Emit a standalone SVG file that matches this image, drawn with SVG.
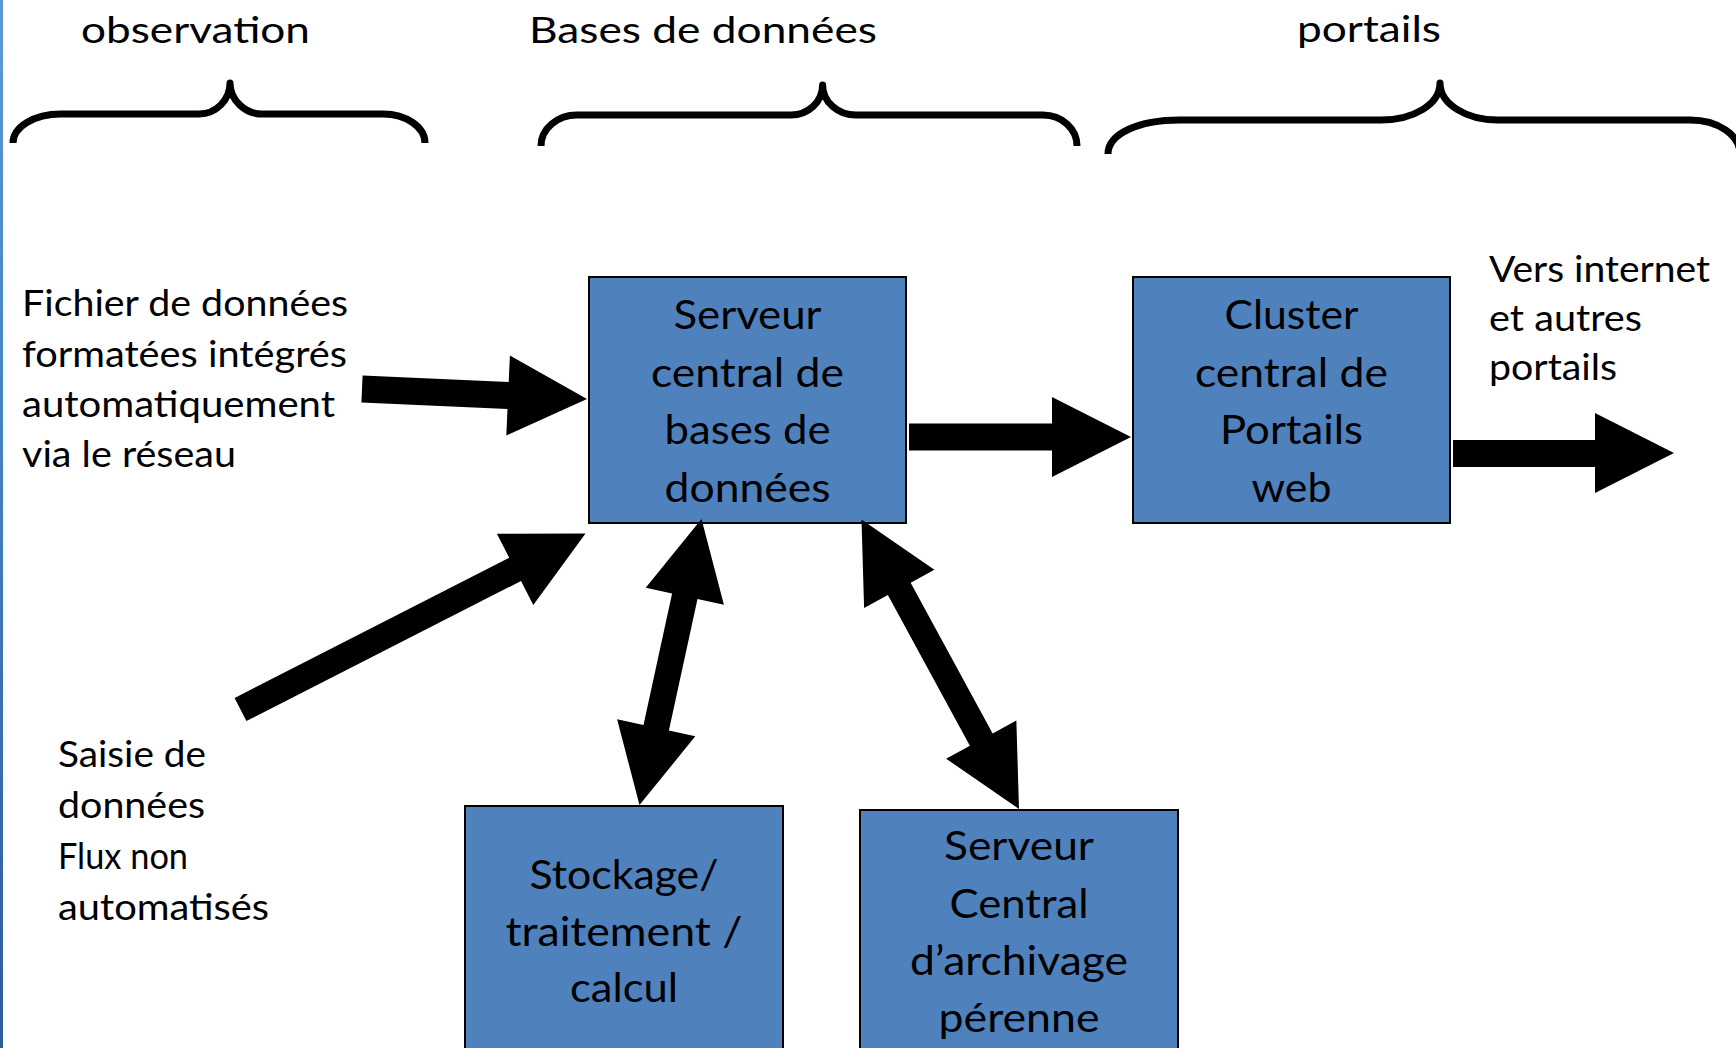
<svg xmlns="http://www.w3.org/2000/svg" width="1736" height="1048" viewBox="0 0 1736 1048">
  <defs>
    <linearGradient id="edge" x1="0" y1="0" x2="0" y2="1">
      <stop offset="0" stop-color="#5a9ad6"/>
      <stop offset="0.5" stop-color="#3f7cc0"/>
      <stop offset="1" stop-color="#2d5d99"/>
    </linearGradient>
    <style>
      .t { font-family: Lato, "Liberation Sans", sans-serif; font-size: 37px; fill: #000; }
      .bt { font-family: Lato, "Liberation Sans", sans-serif; font-size: 41px; fill: #000; text-anchor: middle; }
      .hd { text-anchor: middle; }
      .box { fill: #4f81bd; stroke: #000; stroke-width: 2; }
      .brace { fill: none; stroke: #000; stroke-width: 7; stroke-linejoin: round; stroke-linecap: butt; }
      .arrow { fill: #000; stroke: none; }
    </style>
  </defs>
  <rect width="1736" height="1048" fill="#fff"/>
  <rect x="0" y="0" width="3" height="1048" fill="url(#edge)"/>

  <g id="headers">
    <text class="t hd" x="195.5" y="43" textLength="229" lengthAdjust="spacingAndGlyphs">observation</text>
    <text class="t hd" x="703" y="43" textLength="348" lengthAdjust="spacingAndGlyphs">Bases de données</text>
    <text class="t hd" x="1369" y="42" textLength="144" lengthAdjust="spacingAndGlyphs">portails</text>
  </g>

  <g id="braces">
    <path class="brace" d="M13,143 C13,127 34,114 61,114 L199,114 C216,114 230,100 230,83 C230,100 245,114 262,114 L383,114 C406,114 425,127 425,143"/>
    <path class="brace" d="M541,146 C541,129 557,115 577,115 L791,115 C808,115 822.6,102 822.6,85 C822.6,102 838,115 856,115 L1043,115 C1062,115 1077,129 1077,146"/>
    <path class="brace" d="M1108,154 C1108,134 1138,120 1180,120 L1381,120 C1414,120 1440,104 1440,83 C1440,104 1466,120 1498,120 L1690,120 C1718,120 1740,135 1740,154"/>
  </g>

  <g id="label-fichier">
    <text class="t" x="22" y="316" textLength="326" lengthAdjust="spacingAndGlyphs">Fichier de données</text>
    <text class="t" x="22" y="367" textLength="325" lengthAdjust="spacingAndGlyphs">formatées intégrés</text>
    <text class="t" x="22" y="417" textLength="313" lengthAdjust="spacingAndGlyphs">automatiquement</text>
    <text class="t" x="22" y="467" textLength="214" lengthAdjust="spacingAndGlyphs">via le réseau</text>
  </g>

  <g id="label-saisie">
    <text class="t" x="58" y="767" textLength="148" lengthAdjust="spacingAndGlyphs">Saisie de</text>
    <text class="t" x="58" y="818" textLength="147" lengthAdjust="spacingAndGlyphs">données</text>
    <text class="t" x="58" y="869" textLength="130" lengthAdjust="spacingAndGlyphs">Flux non</text>
    <text class="t" x="58" y="920" textLength="211" lengthAdjust="spacingAndGlyphs">automatisés</text>
  </g>

  <g id="label-vers">
    <text class="t" x="1489" y="282" textLength="221" lengthAdjust="spacingAndGlyphs">Vers internet</text>
    <text class="t" x="1489" y="331" textLength="153" lengthAdjust="spacingAndGlyphs">et autres</text>
    <text class="t" x="1489" y="380" textLength="128" lengthAdjust="spacingAndGlyphs">portails</text>
  </g>

  <g id="node-serveur-bd">
    <rect class="box" x="589" y="277" width="317" height="246"/>
    <text class="bt" x="747.5" y="329" textLength="148" lengthAdjust="spacingAndGlyphs">Serveur</text>
    <text class="bt" x="747.5" y="387" textLength="193" lengthAdjust="spacingAndGlyphs">central de</text>
    <text class="bt" x="747.5" y="444" textLength="166" lengthAdjust="spacingAndGlyphs">bases de</text>
    <text class="bt" x="747.5" y="502" textLength="166" lengthAdjust="spacingAndGlyphs">données</text>
  </g>

  <g id="node-cluster">
    <rect class="box" x="1133" y="277" width="317" height="246"/>
    <text class="bt" x="1291.5" y="329" textLength="134" lengthAdjust="spacingAndGlyphs">Cluster</text>
    <text class="bt" x="1291.5" y="387" textLength="193" lengthAdjust="spacingAndGlyphs">central de</text>
    <text class="bt" x="1291.5" y="444" textLength="143" lengthAdjust="spacingAndGlyphs">Portails</text>
    <text class="bt" x="1291.5" y="502" textLength="80" lengthAdjust="spacingAndGlyphs">web</text>
  </g>

  <g id="node-stockage">
    <rect class="box" x="465" y="806" width="318" height="260"/>
    <text class="bt" x="624" y="889" textLength="189" lengthAdjust="spacingAndGlyphs">Stockage/</text>
    <text class="bt" x="624" y="946" textLength="237" lengthAdjust="spacingAndGlyphs">traitement /</text>
    <text class="bt" x="624" y="1002" textLength="108" lengthAdjust="spacingAndGlyphs">calcul</text>
  </g>

  <g id="node-archivage">
    <rect class="box" x="860" y="810" width="318" height="260"/>
    <text class="bt" x="1019" y="860" textLength="150" lengthAdjust="spacingAndGlyphs">Serveur</text>
    <text class="bt" x="1019" y="918" textLength="139" lengthAdjust="spacingAndGlyphs">Central</text>
    <text class="bt" x="1019" y="975" textLength="218" lengthAdjust="spacingAndGlyphs">d’archivage</text>
    <text class="bt" x="1019" y="1032" textLength="161" lengthAdjust="spacingAndGlyphs">pérenne</text>
  </g>

  <g id="connectors">
    <polygon class="arrow" points="362.6,375.5 508.7,382 509.9,355.5 587,399 506.3,435.5 507.5,409 361.4,402.5"/>
    <polygon class="arrow" points="909,423.5 1052,423.5 1052,397 1131,437 1052,477 1052,450.5 909,450.5"/>
    <polygon class="arrow" points="1453,440 1595,440 1595,413 1674,453 1595,493 1595,467 1453,467"/>
    <polygon class="arrow" points="234.6,697.9 509.2,557.8 496.9,533.8 585.5,533.5 533.3,605 521,581 246.4,721.1"/>
    <polygon class="arrow" points="701.5,519 723.9,604.7 697.5,598.95 668.9,730.55 695.3,736.3 639.5,805 617.1,719.3 643.5,725.05 672.1,593.45 645.7,587.7"/>
    <polygon class="arrow" points="861.5,519.5 934.4,569.8 910.65,582.7 992.65,733.4 1016.35,720.5 1019,809 946.15,758.7 969.85,745.8 887.85,595.1 864.1,608"/>
  </g>
</svg>
